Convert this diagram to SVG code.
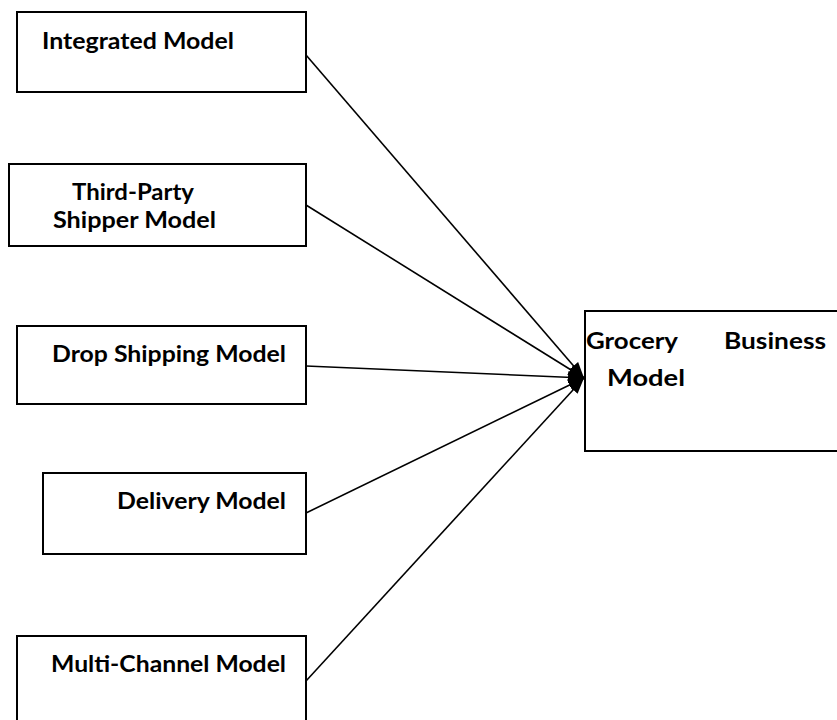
<svg xmlns="http://www.w3.org/2000/svg" width="837" height="720" viewBox="0 0 837 720">
<defs>
<style>
.box{fill:#fff;stroke:#000;stroke-width:2}
.lbl{font-family:Lato,"Liberation Sans",sans-serif;font-weight:bold;font-size:23px;fill:#000}
.con{stroke:#000;stroke-width:1.6;fill:none}
</style>
<marker id="ah" viewBox="0 0 16 12" refX="16" refY="6" markerWidth="16" markerHeight="12" markerUnits="userSpaceOnUse" orient="auto">
<path d="M0,0 L16,6 L0,12 Z" fill="#000"/>
</marker>
</defs>
<rect width="837" height="720" fill="#fff"/>
<g id="connectors">
<line class="con" x1="306" y1="55" x2="584" y2="378" marker-end="url(#ah)"/>
<line class="con" x1="306" y1="205" x2="584" y2="378" marker-end="url(#ah)"/>
<line class="con" x1="306" y1="366" x2="584" y2="378" marker-end="url(#ah)"/>
<line class="con" x1="306" y1="513" x2="584" y2="378" marker-end="url(#ah)"/>
<line class="con" x1="306" y1="681" x2="584" y2="378" marker-end="url(#ah)"/>
</g>
<g id="integrated">
<rect class="box" x="17" y="12" width="289" height="80"/>
<text class="lbl" x="42" y="49" textLength="192" lengthAdjust="spacingAndGlyphs">Integrated Model</text>
</g>
<g id="thirdparty">
<rect class="box" x="9" y="164" width="297" height="82"/>
<text class="lbl" x="72" y="200" textLength="122" lengthAdjust="spacingAndGlyphs">Third-Party</text>
<text class="lbl" x="53" y="228" textLength="163" lengthAdjust="spacingAndGlyphs">Shipper Model</text>
</g>
<g id="dropshipping">
<rect class="box" x="17" y="326" width="289" height="78"/>
<text class="lbl" x="52" y="362" textLength="234" lengthAdjust="spacingAndGlyphs">Drop Shipping Model</text>
</g>
<g id="delivery">
<rect class="box" x="43" y="473" width="263" height="81"/>
<text class="lbl" x="117" y="509" textLength="169" lengthAdjust="spacingAndGlyphs">Delivery Model</text>
</g>
<g id="multichannel">
<rect class="box" x="17" y="636" width="289" height="100"/>
<text class="lbl" x="51" y="672" textLength="235" lengthAdjust="spacingAndGlyphs">Multi-Channel Model</text>
</g>
<g id="grocery">
<rect class="box" x="585" y="311" width="270" height="140"/>
<text class="lbl" x="586" y="349" textLength="92" lengthAdjust="spacingAndGlyphs">Grocery</text>
<text class="lbl" x="724" y="349" textLength="102" lengthAdjust="spacingAndGlyphs">Business</text>
<text class="lbl" x="607" y="386" textLength="78" lengthAdjust="spacingAndGlyphs">Model</text>
</g>
</svg>
